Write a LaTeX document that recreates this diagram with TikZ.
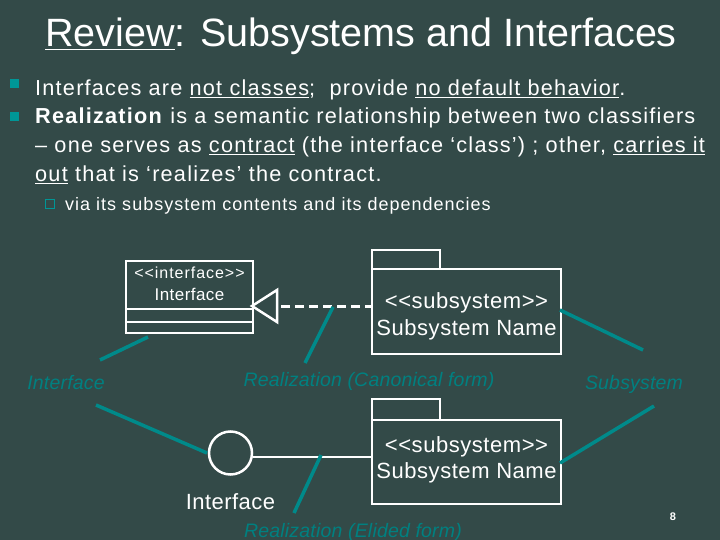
\documentclass[tikz,border=0pt]{standalone}
\usepackage{fontspec}
\setmainfont{Liberation Sans}
\definecolor{bg}{RGB}{51,74,72}
\definecolor{tealline}{RGB}{0,138,138}
\definecolor{teallabel}{RGB}{0,128,128}
\definecolor{tealbullet}{RGB}{0,150,150}
\tikzset{
  white line/.style={draw=white, line width=2.5pt},
  pointer/.style={draw=tealline, line width=3.5pt},
  body/.style={anchor=base west, inner sep=0pt, text=white, font=\fontsize{21.7}{25}\selectfont\addfontfeatures{LetterSpace=5.6}},
  tlabel/.style={anchor=base, inner sep=0pt, text=teallabel, font=\fontsize{19.5}{22}\selectfont\itshape\addfontfeatures{LetterSpace=1}},
  wtext/.style={anchor=base, inner sep=0pt, text=white},
  pkgtext/.style={wtext, font=\fontsize{22}{24}\selectfont\addfontfeatures{LetterSpace=2.5}},
}
\begin{document}
\begin{tikzpicture}[x=1pt,y=-1pt]
\fill[bg] (0,0) rectangle (720,540);
\useasboundingbox (0,0) rectangle (720,540);
% title
\node[wtext, font=\fontsize{39.5}{41}\selectfont] (title) at (361,47) {\underline{Review}: Subsystems and Interfaces};
% bullets
\fill[tealbullet] (9.5,79.5) rectangle (18.5,88.5);
\fill[tealbullet] (9.5,112.5) rectangle (18.5,121.5);
\node[body] (l1) at (35,96) {Interfaces are \underline{not classes};\ \ provide \underline{no default behavior}.};
\node[body] (l2) at (35,124) {\textbf{Realization} is a semantic relationship between two classifiers};
\node[body] (l3) at (35,153) {– one serves as \underline{contract} (the interface ‘class’) ; other, \underline{carries it}};
\node[body] (l4) at (35,182) {\underline{out} that is ‘realizes’ the contract.};
\draw[tealbullet, line width=1.5pt] (45.5,199.5) rectangle (54.5,208.5);
\node[body, font=\fontsize{18}{20}\selectfont\addfontfeatures{LetterSpace=5.6}] (sub) at (65,211) {via its subsystem contents and its dependencies};
% interface class
\draw[white line] (126,261) rectangle (253,333);
\draw[white line] (126,309) -- (253,309);
\draw[white line] (126,322) -- (253,322);
\node[wtext, font=\fontsize{16}{17}\selectfont\addfontfeatures{LetterSpace=6}] (ist) at (189.5,278) {<{}<interface>{}>};
\node[wtext, font=\fontsize{17}{18}\selectfont\addfontfeatures{LetterSpace=2.5}] (iname) at (189.5,300) {Interface};
\coordinate (itip) at (252,306);
% realization triangle and dashed line
\draw[white line, fill=bg, line join=miter] (itip) -- (277,290) -- (277,322) -- cycle;
\coordinate (tribase) at (281,306);
% package 1
\draw[white line] (372,250) rectangle (440,269);
\draw[white line] (372,269) rectangle (561,354);
\coordinate (p1w) at (372,306);
\draw[draw=white, line width=3pt, dash pattern=on 9pt off 5pt] (tribase) -- (p1w);
\node[pkgtext] (p1s) at (466.5,308) {<{}<subsystem>{}>};
\node[pkgtext] (p1n) at (466.5,335) {Subsystem Name};
% labels row
\node[tlabel] (lInterface) at (66,389) {Interface};
\node[tlabel] (lCanon) at (369,386) {Realization (Canonical form)};
\node[tlabel] (lSub) at (634,389) {Subsystem};
% pointers top
\coordinate (a1s) at (100,360); \coordinate (a1e) at (148,337);
\coordinate (a2s) at (305,363); \coordinate (a2e) at (333,307);
\coordinate (a3s) at (643,350); \coordinate (a3e) at (560,310);
\draw[pointer] (a1s) -- (a1e);
\draw[pointer] (a2s) -- (a2e);
\draw[pointer] (a3s) -- (a3e);
% elided form
\node[draw=white, line width=2.5pt, circle, minimum size=43pt, inner sep=0pt] (lollipop) at (230.5,453) {};
\draw[white line] (372,399) rectangle (440,420);
\draw[white line] (372,420) rectangle (561,504);
\coordinate (p2w) at (372,457);
\draw[white line] (lollipop.east |- p2w) -- (p2w);
\node[pkgtext] (p2s) at (466.5,452) {<{}<subsystem>{}>};
\node[pkgtext] (p2n) at (466.5,478) {Subsystem Name};
\node[wtext, font=\fontsize{22}{24}\selectfont\addfontfeatures{LetterSpace=2}] (iface2) at (230.5,509) {Interface};
\node[tlabel] (lElided) at (353,537) {Realization (Elided form)};
\coordinate (b1s) at (96,405); \coordinate (b1e) at (207,453);
\coordinate (b2s) at (294,513); \coordinate (b2e) at (321,455);
\coordinate (b3s) at (654,406); \coordinate (b3e) at (560,463);
\draw[pointer] (b1s) -- (b1e);
\draw[pointer] (b2s) -- (b2e);
\draw[pointer] (b3s) -- (b3e);
% page number
\node[wtext, font=\fontsize{11}{12}\selectfont\bfseries] (pg) at (673,520) {8};
\end{tikzpicture}
\end{document}
